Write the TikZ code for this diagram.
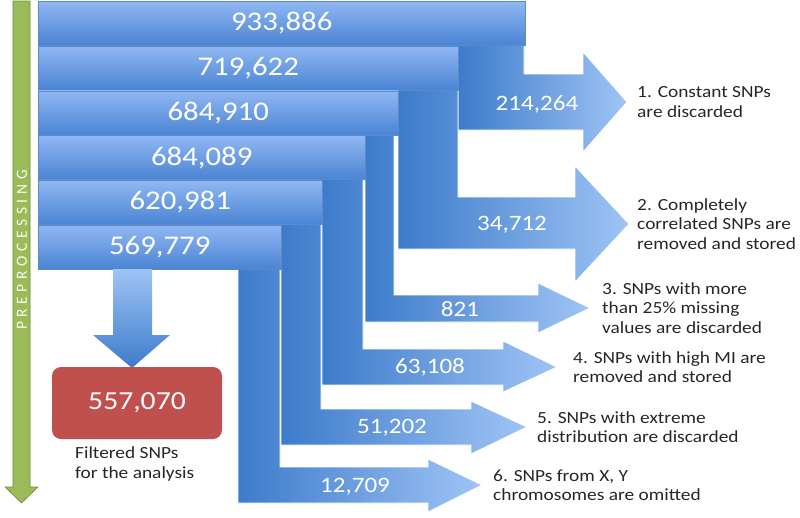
\documentclass[tikz,border=0pt]{standalone}
\usepackage{fontspec}
\setmainfont{Carlito}[FakeStretch=1.14]
\newfontfamily\prepfont{Carlito}[LetterSpace=30]
\usetikzlibrary{positioning}

\definecolor{barTop}{HTML}{90B7F3}
\definecolor{barBot}{HTML}{4A84D3}
\definecolor{barLine}{HTML}{5B8BCB}
\definecolor{arrDark}{HTML}{3D7BCB}
\definecolor{arrLight}{HTML}{9FC4F5}
\definecolor{keptRed}{HTML}{C0504D}
\definecolor{prepGreen}{HTML}{9BBB59}
\definecolor{prepLine}{HTML}{6F8C3E}
\definecolor{noteGray}{HTML}{262626}

\begin{document}
\begin{tikzpicture}[x=1pt, y=-1pt,
    every node/.style={font=\fontsize{17}{19.5}\selectfont},
    bar/.style={anchor=north west, minimum height=44pt, inner sep=0pt, draw=barLine, line width=0.5pt,
        top color=barTop, bottom color=barBot, text=white, font=\fontsize{27}{30}\selectfont},
    flow/.style={left color=arrDark, right color=arrLight, draw=white, line width=0.8pt},
    count/.style={text=white, font=\fontsize{22}{24}\selectfont},
    note/.style={align=left, text=noteGray, inner sep=0pt}]
    \useasboundingbox (0,0) rectangle (800,517);

    % preprocessing arrow
    \draw[draw=prepLine, fill=prepGreen, line width=0.6pt] (13,1) -- (30,1) -- (30,487) -- (38,487) -- (21.5,503) -- (5,487) -- (13,487) -- cycle;
    \node[rotate=90, text=white!92!prepGreen, font=\prepfont\fontsize{15.5}{17}\selectfont] (prep) at (22,250) {PREPROCESSING};

    % removed SNPs
    \shade[flow] (458,44) -- (524,44) -- (524,74) -- (583,74) -- (583,52) -- (627,102) -- (583,152) -- (583,130) -- (458,130) -- cycle;
    \shade[flow] (398,89) -- (458,89) -- (458,197) -- (575,197) -- (575,166) -- (629,224) -- (575,282) -- (575,249) -- (398,249) -- cycle;
    \shade[flow] (365,134) -- (394,134) -- (394,295) -- (538,295) -- (538,283) -- (590,308) -- (538,333) -- (538,322) -- (365,322) -- cycle;
    \shade[flow] (322,179) -- (363,179) -- (363,349) -- (503,349) -- (503,341) -- (557,367) -- (503,392) -- (503,385) -- (322,385) -- cycle;
    \shade[flow] (281,224) -- (321,224) -- (321,409) -- (471,409) -- (471,401) -- (527,427) -- (471,454) -- (471,445) -- (281,445) -- cycle;
    \shade[flow] (238,269) -- (280,269) -- (280,467) -- (428,467) -- (428,459) -- (482,485) -- (428,512) -- (428,503) -- (238,503) -- cycle;
    \coordinate (t1) at (627,102); \coordinate (t2) at (629,224); \coordinate (t3) at (590,308);
    \coordinate (t4) at (557,367); \coordinate (t5) at (527,427); \coordinate (t6) at (482,485);

    \node[count] (c1) at (537,104) {214,264};
    \node[count] (c2) at (512,225) {34,712};
    \node[count] (c3) at (460,309) {821};
    \node[count] (c4) at (430,367) {63,108};
    \node[count] (c5) at (392,428) {51,202};
    \node[count] (c6) at (355,487) {12,709};

    % remaining SNPs
    \node[bar, minimum width=487pt] (b1) at (38,1) {933,886};
    \node[bar, minimum width=420pt] (b2) at (38,45.8) {719,622};
    \node[bar, minimum width=360pt] (b3) at (38,90.6) {684,910};
    \node[bar, minimum width=327pt] (b4) at (38,135.4) {684,089};
    \node[bar, minimum width=284pt] (b5) at (38,180.2) {620,981};
    \node[bar, minimum width=243pt] (b6) at (38,225) {569,779};

    % filtered set
    \shade[top color=arrLight, bottom color=arrDark] (113,269) -- (152,269) -- (152,335) -- (170,335) -- (132,368) -- (93,335) -- (113,335) -- cycle;
    \node[fill=keptRed, rounded corners=9pt, minimum width=170pt, minimum height=72pt, text=white,
        font=\fontsize{26}{28}\selectfont] (kept) at (137,403) {557,070};
    \node[note, anchor=north west, font=\fontsize{17}{20}\selectfont] (cap) at (75,446) {Filtered SNPs\\for the analysis};

    \node[note, right=10pt of t1] (n1) {1. Constant SNPs\\are discarded};
    \node[note, right=8pt of t2] (n2) {2. Completely\\correlated SNPs are\\removed and stored};
    \node[note, right=12pt of t3] (n3) {3. SNPs with more\\than 25\% missing\\values are discarded};
    \node[note, right=16pt of t4] (n4) {4. SNPs with high MI are\\removed and stored};
    \node[note, right=10pt of t5] (n5) {5. SNPs with extreme\\distribution are discarded};
    \node[note, right=11pt of t6] (n6) {6. SNPs from X, Y\\chromosomes are omitted};
\end{tikzpicture}
\end{document}
